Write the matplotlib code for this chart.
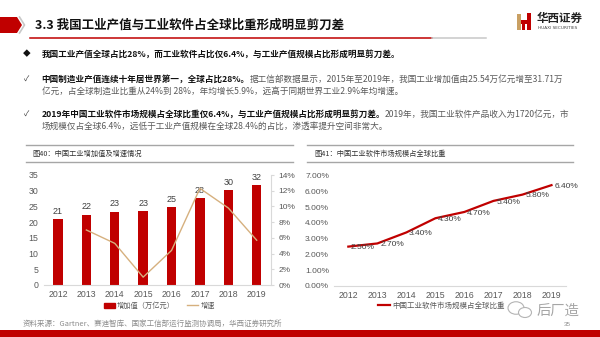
import numpy as np
import matplotlib
matplotlib.use("Agg")
import matplotlib.pyplot as plt
from matplotlib.patches import Polygon, Rectangle, Ellipse, Patch
from matplotlib.lines import Line2D
from matplotlib.ticker import FuncFormatter

plt.rcParams['font.family'] = ['Noto Sans CJK SC', 'DejaVu Sans']

W, H = 600, 337
RED = '#C00000'
TAN = '#D6B07E'
GREY_TXT = '#595959'
NUM_FONT = ['Liberation Sans Narrow', 'Liberation Sans']

# data
years = ['2012', '2013', '2014', '2015', '2016', '2017', '2018', '2019']
added_value = [20.9, 22.3, 23.3, 23.4, 24.7, 27.6, 30.1, 31.7]    # 万亿元
growth = [np.nan, 7.0, 5.3, 1.0, 4.4, 12.3, 9.8, 5.7]             # %
sw_share = [2.5, 2.7, 3.4, 4.3, 4.7, 5.4, 5.8, 6.4]               # %

title = '3.3 我国工业产值与工业软件占全球比重形成明显剪刀差'
fig40_title = '图40：中国工业增加值及增速情况'
fig41_title = '图41：中国工业软件市场规模占全球比重'
legend40 = ['增加值（万亿元）', '增速']
legend41 = '中国工业软件市场规模占全球比重'
source = '资料来源：Gartner、赛迪智库、国家工信部运行监测协调局，华西证券研究所'

bullet1 = [('我国工业产值全球占比28%，而工业软件占比仅6.4%，与工业产值规模占比形成明显剪刀差。', True)]
bullet2a = [('中国制造业产值连续十年居世界第一，全球占比28%。', True),
            ('据工信部数据显示，2015年至2019年，我国工业增加值由25.54万亿元增至31.71万', False)]
bullet2b = [('亿元，占全球制造业比重从24%到 28%，年均增长5.9%，远高于同期世界工业2.9%年均增速。', False)]
bullet3a = [('2019年中国工业软件市场规模占全球比重仅6.4%，与工业产值规模占比形成明显剪刀差。', True),
            ('2019年，我国工业软件产品收入为1720亿元，市', False)]
bullet3b = [('场规模仅占全球6.4%，远低于工业产值规模在全球28.4%的占比，渗透率提升空间非常大。', False)]


fig = plt.figure(figsize=(W / 100, H / 100), dpi=100)
fig.patch.set_facecolor('white')

# page decorations in pixel coordinates
deco = fig.add_axes([0, 0, 1, 1], zorder=0)
deco.set_xlim(0, W)
deco.set_ylim(H, 0)
deco.axis('off')
rend = fig.canvas.get_renderer()


def write_parts(x, y, parts, size):
    for s, bold in parts:
        t = deco.text(x, y, s, fontsize=size, va='center', ha='left',
                      fontweight='bold' if bold else 'normal',
                      color='#111111' if bold else GREY_TXT)
        x += t.get_window_extent(renderer=rend).width


# header
deco.add_patch(Polygon([(0, 17), (17, 17), (22, 25), (17, 33), (0, 33)], closed=True, color=RED, lw=0))
deco.plot([19.5, 24.5, 19.5], [17, 25, 33], color='#C8C8C8', lw=1.2)
deco.text(35, 25.5, title, fontsize=9.0, fontweight='bold', va='center', ha='left', color='#111111')
deco.plot([30, 432], [38, 38], color=RED, lw=1.1)
deco.plot([432, 486], [38, 38], color='#C8C8C8', lw=1.1)

# logo
deco.add_patch(Rectangle((517, 14), 4, 16, color='#C9A063', lw=0))
deco.add_patch(Rectangle((526.5, 13), 4.5, 17, color=RED, lw=0))
deco.add_patch(Rectangle((521, 20), 6, 4, color=RED, lw=0))
deco.add_patch(Rectangle((521.5, 24), 3, 6, color=RED, lw=0))
deco.text(537, 18, '华西证券', fontsize=8.3, fontweight='bold', va='center', ha='left', color='#222222')
deco.text(537.5, 28, 'HUAXI SECURITIES', fontsize=3.1, va='center', ha='left', color='#444444',
          family='DejaVu Sans')

# bullets
deco.text(27, 54.5, '◆', fontsize=5.5, va='center', ha='center', color='#111111')
write_parts(41.5, 54.5, bullet1, 6.2)
deco.text(27, 79.5, '✓', fontsize=5.5, va='center', ha='center', color='#333333')
write_parts(41.5, 79.5, bullet2a, 6.2)
write_parts(41.5, 91, bullet2b, 6.2)
deco.text(27, 114.5, '✓', fontsize=5.5, va='center', ha='center', color='#333333')
write_parts(41.5, 114.5, bullet3a, 6.2)
write_parts(41.5, 126, bullet3b, 6.2)

# chart panel frames
for x0, x1 in [(26, 293), (307, 573)]:
    deco.plot([x0, x1], [145, 145], color='#A6A6A6', lw=1.0)
    deco.plot([x0, x1], [161.5, 161.5], color='#A6A6A6', lw=1.0)
deco.text(32.5, 153.5, fig40_title, fontsize=5.2, va='center', ha='left', color='#333333')
deco.text(314, 153.5, fig41_title, fontsize=5.2, va='center', ha='left', color='#333333')

# footer
deco.text(23, 324, source, fontsize=5.4, va='center', ha='left', color='#8C8C8C')
deco.text(567, 325, '35', fontsize=4.5, va='center', ha='center', color='#8C8C8C', family=NUM_FONT)
deco.add_patch(Rectangle((0, 329.5), W, 8, color=RED, lw=0))

# watermark
deco.add_patch(Ellipse((516, 308), 16, 12.5, fill=False, ec='#B4B4B4', lw=0.8))
deco.add_patch(Ellipse((525, 312.5), 13, 10, fc='white', ec='#B4B4B4', lw=0.8))
deco.text(537, 310.5, '后厂造', fontsize=10.3, va='center', ha='left', color='#A6A6A6')

# ---- left chart: bars + growth line
xs = np.arange(len(years))
ax1 = fig.add_axes([43.8 / W, 1 - 285 / H, (270.9 - 43.8) / W, 110 / H], zorder=2)
ax1.bar(xs, added_value, width=0.33, color=RED, zorder=2)
for x, v in zip(xs, added_value):
    ax1.annotate(f'{v:.0f}', (x, v), xytext=(0, 2.5), textcoords='offset points',
                 ha='center', va='bottom', fontsize=6.5, color='#404040', family=NUM_FONT)
ax1.set_xlim(-0.5, len(years) - 0.5)
ax1.set_ylim(0, 35)
ax1.set_yticks(range(0, 36, 5))
ax1.set_xticks(xs)
ax1.set_xticklabels(years)
for s in ['top', 'left', 'right']:
    ax1.spines[s].set_visible(False)
ax1.spines['bottom'].set_color('#D9D9D9')
ax1.tick_params(axis='both', length=0, labelsize=6.3, labelcolor=GREY_TXT)
ax1.tick_params(axis='y', pad=4)
ax1.tick_params(axis='x', pad=3.5)
for lab in ax1.get_xticklabels() + ax1.get_yticklabels():
    lab.set_family(NUM_FONT)

ax1b = ax1.twinx()
ax1b.plot(xs, growth, color=TAN, lw=1.0)
ax1b.set_ylim(0, 14)
ax1b.set_yticks(range(0, 15, 2))
ax1b.yaxis.set_major_formatter(FuncFormatter(lambda v, p: f'{v:.0f}%'))
for s in ['top', 'left', 'bottom']:
    ax1b.spines[s].set_visible(False)
ax1b.spines['right'].set_color('#D9D9D9')
ax1b.tick_params(axis='y', length=2, color='#D9D9D9', pad=3.5, labelsize=6.0, labelcolor=GREY_TXT)
for lab in ax1b.get_yticklabels():
    lab.set_family(NUM_FONT)

fig.legend([Patch(color=RED), Line2D([], [], color=TAN, lw=1.0)], legend40,
           loc='center left', bbox_to_anchor=(104 / W, 1 - 306 / H), ncol=2, frameon=False,
           fontsize=5.2, handlelength=1.5, handleheight=0.7, handletextpad=0.3,
           columnspacing=1.7, borderpad=0, borderaxespad=0, labelcolor=GREY_TXT)

# ---- right chart: software share line
ax2 = fig.add_axes([333.8 / W, 1 - 286 / H, (566 - 333.8) / W, 110.3 / H], zorder=2)
ax2.plot(xs, sw_share, color=RED, lw=1.6)
for x, v in zip(xs, sw_share):
    ax2.annotate(f'{v:.2f}%', (x, v), xytext=(2, -1), textcoords='offset points',
                 ha='left', va='center', fontsize=6.0, color='#404040', family=NUM_FONT)
ax2.set_xlim(-0.5, len(years) - 0.5)
ax2.set_ylim(0, 7)
ax2.set_yticks(range(0, 8))
ax2.yaxis.set_major_formatter(FuncFormatter(lambda v, p: f'{v:.2f}%'))
ax2.set_xticks(xs)
ax2.set_xticklabels(years)
for s in ['top', 'left', 'right']:
    ax2.spines[s].set_visible(False)
ax2.spines['bottom'].set_color('#D9D9D9')
ax2.tick_params(axis='both', length=0, labelsize=6.0, labelcolor=GREY_TXT)
ax2.tick_params(axis='y', pad=3.5)
ax2.tick_params(axis='x', pad=3.5, labelsize=6.3)
for lab in ax2.get_xticklabels() + ax2.get_yticklabels():
    lab.set_family(NUM_FONT)

fig.legend([Line2D([], [], color=RED, lw=1.6)], [legend41],
           loc='center left', bbox_to_anchor=(378 / W, 1 - 306 / H), frameon=False,
           fontsize=5.4, handlelength=1.6, handletextpad=0.3,
           borderpad=0, borderaxespad=0, labelcolor=GREY_TXT)

fig.savefig('out.png', dpi=100)
